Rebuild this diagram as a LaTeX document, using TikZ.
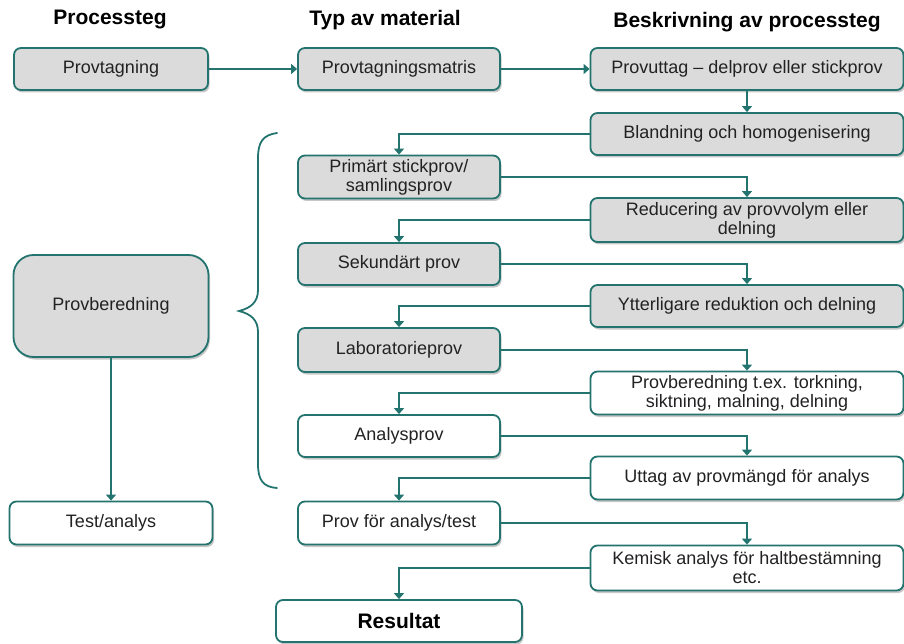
\documentclass[tikz,border=0pt]{standalone}
\usepackage{fontspec}
\setmainfont{Liberation Sans}
\usetikzlibrary{arrows.meta,shadows}
\definecolor{tealc}{RGB}{35,115,110}
\definecolor{boxgray}{RGB}{219,219,219}
\definecolor{txt}{RGB}{34,34,34}
\tikzset{
  box/.style={draw=tealc, line width=1.8pt, rounded corners=7pt, fill=boxgray, text=txt,
    align=center, inner sep=1pt, font=\fontsize{18}{19}\selectfont,
    drop shadow={shadow xshift=1.5pt, shadow yshift=-2.5pt, fill=black, opacity=0.22}},
  wbox/.style={box, fill=white},
  hdr/.style={font=\fontsize{21}{24}\selectfont\bfseries, text=black},
  conn/.style={draw=tealc, line width=2pt, -{Triangle[length=6pt,width=10pt]}},
  mcol/.style={minimum width=202pt},
  dcol/.style={minimum width=313pt},
}
\begin{document}
\begin{tikzpicture}[x=1pt,y=-1pt]
\useasboundingbox (0,0) rectangle (904,644);
% headers
\node[hdr] (h1) at (110,20) {Processteg};
\node[hdr] (h2) at (385,20) {Typ av material};
\node[hdr] (h3) at (747,22) {Beskrivning av processteg};
% left column
\node[box, minimum width=194pt, minimum height=42pt] (p1) at (111,69) {Provtagning};
\node[box, minimum width=195pt, minimum height=102pt, rounded corners=20pt] (p2) at (111,306) {Provberedning};
\node[wbox, minimum width=203pt, minimum height=43pt] (p3) at (111,523) {Test/analys};
% middle column
\node[box, mcol, minimum height=42pt] (m1) at (399,69) {Provtagningsmatris};
\node[box, mcol, minimum height=43pt] (m2) at (399,177) {Primärt stickprov/\\samlingsprov};
\node[box, mcol, minimum height=42pt] (m3) at (399,264) {Sekundärt prov};
\node[box, mcol, minimum height=44pt] (m4) at (399,350) {Laboratorieprov};
\node[wbox, mcol, minimum height=42pt] (m5) at (399,436) {Analysprov};
\node[wbox, mcol, minimum height=43pt] (m6) at (399,523) {Prov för analys/test};
\node[wbox, minimum width=246pt, minimum height=42pt, font=\fontsize{21}{24}\selectfont\bfseries, text=black] (r) at (399,621) {Resultat};
% right column
\node[box, dcol, minimum height=42pt] (d1) at (747,69) {Provuttag – delprov eller stickprov};
\node[box, dcol, minimum height=42pt] (d2) at (747,134) {Blandning och homogenisering};
\node[box, dcol, minimum height=44pt] (d3) at (747,220) {Reducering av provvolym eller\\delning};
\node[box, dcol, minimum height=42pt] (d4) at (747,306) {Ytterligare reduktion och delning};
\node[wbox, dcol, minimum height=43pt] (d5) at (747,393) {Provberedning t.ex. torkning,\\siktning, malning, delning};
\node[wbox, dcol, minimum height=43pt] (d6) at (747,478) {Uttag av provmängd för analys};
\node[wbox, dcol, minimum height=45pt] (d7) at (747,568) {Kemisk analys för haltbestämning\\etc.};
% connectors
\draw[conn] (p1.east) -- (m1.west);
\draw[conn] (m1.east) -- (d1.west);
\draw[conn] (d1.south) -- (d2.north);
\draw[conn] (d2.west) -| (m2.north);
\draw[conn] (m2.east) -| (d3.north);
\draw[conn] (d3.west) -| (m3.north);
\draw[conn] (m3.east) -| (d4.north);
\draw[conn] (d4.west) -| (m4.north);
\draw[conn] (m4.east) -| (d5.north);
\draw[conn] (d5.west) -| (m5.north);
\draw[conn] (m5.east) -| (d6.north);
\draw[conn] (d6.west) -| (m6.north);
\draw[conn] (m6.east) -| (d7.north);
\draw[conn] (d7.west) -| (r.north);
\draw[conn] (p2.south) -- (p3.north);
% brace
\draw[tealc, line width=1.8pt, line cap=round]
  (277,133) .. controls (263,135) and (258,142) .. (258,158) -- (258,290)
  .. controls (258,302) and (251,308) .. (239,311)
  .. controls (251,314) and (258,320) .. (258,332) -- (258,464)
  .. controls (258,480) and (263,487) .. (277,488);
\end{tikzpicture}
\end{document}
